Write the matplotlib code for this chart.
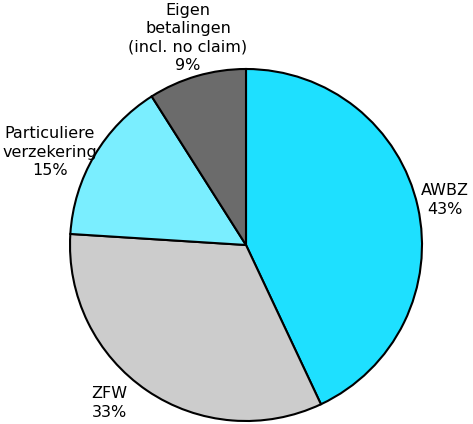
import matplotlib
matplotlib.use("Agg")
import matplotlib.pyplot as plt

# shares of health care financing
labels = ["AWBZ", "ZFW", "Particuliere\nverzekering", "Eigen\nbetalingen\n(incl. no claim)"]
values = [43, 33, 15, 9]
colors = ["#1EE0FF", "#CCCCCC", "#7AEEFF", "#6B6B6B"]

# label anchor positions (pixel-ish coordinates, y up)
label_pos = [(445, 224), (109, 21), (50, 272), (188, 386)]

plt.rcParams['font.family'] = ['DejaVu Sans']

fig = plt.figure(figsize=(4.73, 4.24), dpi=100)
ax = fig.add_axes([0, 0, 1, 1])

ax.pie(values, colors=colors, startangle=90, counterclock=False,
       center=(246, 179), radius=176,
       wedgeprops=dict(edgecolor='black', linewidth=1.5), frame=True)
ax.set_xlim(0, 473)
ax.set_ylim(0, 424)
ax.set_aspect('equal')
ax.axis('off')

for lab, v, (x, y) in zip(labels, values, label_pos):
	ax.text(x, y, f"{lab}\n{v}%", ha='center', va='center', fontsize=11.5,
	        linespacing=1.28)

fig.savefig("out.png", dpi=100)
